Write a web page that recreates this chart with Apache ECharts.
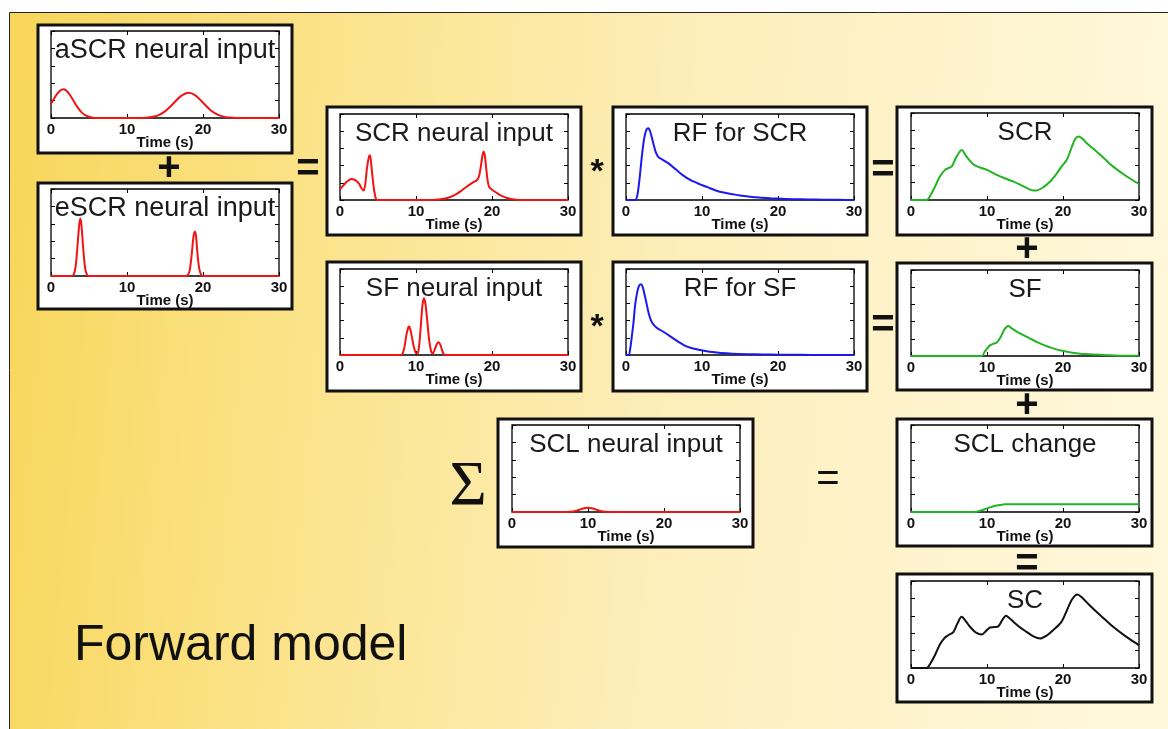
<!DOCTYPE html>
<html lang="en">
<head>
<meta charset="UTF-8">
<title>Forward model</title>
<script src="https://cdn.jsdelivr.net/npm/echarts@6/dist/echarts.min.js"></script>
<style>
body {margin: 0; background: #fff;}
#main {width: 1168px; height: 729px;}
</style>
</head>
<body>
<div id="main"></div>
<script>
// [time (s), value], value in y-tick units (0..5)
var aSCR = [[0,0.82],[0.5,1.18],[1,1.49],[1.6,1.65],[2,1.58],[2.5,1.32],[3,0.96],[3.5,0.61],[4,0.34],[4.5,0.16],[5,0.07],[5.5,0.02],[6,0],[12,0],[13,0.04],[14,0.14],[15,0.38],[16,0.79],[17,1.23],[18.1,1.45],[19,1.3],[20,0.88],[21,0.45],[22,0.18],[23,0.05],[24,0.01],[25,0],[30,0]];
var eSCR = [[0,0],[2.75,0],[3,0.1],[3.25,0.57],[3.5,1.81],[3.7,2.9],[3.85,3.3],[4,2.96],[4.25,1.51],[4.5,0.42],[4.75,0.06],[5,0],[17.75,0],[18,0.05],[18.25,0.32],[18.5,1.17],[18.75,2.28],[18.9,2.55],[19.05,2.4],[19.25,1.4],[19.5,0.44],[19.75,0.08],[20,0],[30,0]];
var scrNeural = [[0,0.62],[0.5,0.88],[1,1.1],[1.5,1.22],[2,1.15],[2.5,0.95],[2.8,0.7],[3.1,0.55],[3.3,0.85],[3.55,1.85],[3.8,2.5],[3.95,2.6],[4.15,1.9],[4.4,0.85],[4.65,0.2],[4.9,0],[12.3,0],[13,0.03],[14,0.1],[15,0.27],[16,0.55],[17,0.88],[17.6,1.05],[18,1.15],[18.3,1.4],[18.55,2.0],[18.75,2.6],[18.9,2.8],[19.05,2.6],[19.25,1.8],[19.45,1.05],[19.65,0.74],[20,0.6],[20.5,0.45],[21,0.3],[21.5,0.2],[22,0.12],[22.5,0.06],[23,0.03],[23.7,0],[30,0]];
var rfSCR = [[0,0],[1.2,0],[1.5,0.3],[1.8,1.3],[2.1,2.6],[2.4,3.6],[2.7,4.1],[2.95,4.17],[3.2,3.95],[3.6,3.29],[3.9,2.8],[4.3,2.48],[4.8,2.35],[5.6,2.13],[6.5,1.8],[7.6,1.4],[8.5,1.15],[9.75,0.91],[11,0.7],[11.9,0.54],[13,0.42],[14.1,0.33],[15,0.26],[16.3,0.19],[17.5,0.14],[19,0.1],[20,0.08],[22,0.05],[24,0.03],[26,0.02],[28,0.01],[30,0]];
var scr = [[0,0],[2.06,0],[2.6,0.3],[3.16,0.77],[3.8,1.35],[4.47,1.73],[5,1.85],[5.4,1.95],[6,2.5],[6.67,2.88],[7.3,2.5],[8.2,2.06],[9,1.88],[10,1.73],[11.3,1.44],[12.5,1.22],[13.5,1.06],[14.8,0.78],[15.9,0.56],[16.5,0.55],[17.4,0.73],[18.3,1.06],[19.2,1.54],[19.8,1.92],[20.5,2.31],[21.1,2.98],[21.6,3.5],[22,3.65],[22.5,3.55],[23.1,3.27],[24.4,2.79],[25.5,2.35],[26.6,1.92],[28.4,1.35],[30,0.92]];
var sfNeural = [[0,0],[8,0],[8.25,0.1],[8.5,0.5],[8.75,1.2],[9,1.62],[9.1,1.65],[9.25,1.5],[9.5,0.95],[9.75,0.4],[10,0.1],[10.2,0.08],[10.4,0.5],[10.6,1.5],[10.85,2.9],[11.05,3.3],[11.25,2.95],[11.5,1.9],[11.75,0.8],[12,0.2],[12.2,0.08],[12.45,0.3],[12.7,0.6],[12.95,0.74],[13.2,0.6],[13.45,0.25],[13.7,0.02],[14,0],[30,0]];
var rfSF = [[0,0],[0.35,0],[0.6,0.5],[0.8,1.2],[1.0,1.94],[1.2,2.9],[1.45,3.6],[1.7,4.0],[1.97,4.11],[2.2,3.95],[2.5,3.4],[2.75,2.9],[3.0,2.4],[3.3,2.0],[3.6,1.78],[4.0,1.6],[4.3,1.51],[4.8,1.38],[5.6,1.16],[6.5,0.88],[7.6,0.58],[8.5,0.42],[9.75,0.29],[11,0.19],[12.5,0.12],[14,0.08],[16,0.05],[18,0.03],[20,0.02],[23,0.01],[26,0],[30,0]];
var sf = [[0,0],[9.3,0],[9.7,0.25],[10.1,0.48],[10.4,0.62],[10.9,0.72],[11.3,0.78],[11.8,1.1],[12.3,1.55],[12.8,1.74],[13.2,1.62],[13.8,1.45],[14.8,1.21],[15.5,1.05],[16.5,0.82],[17.5,0.63],[18.5,0.47],[20,0.29],[21,0.21],[22,0.15],[23,0.11],[24.4,0.08],[26,0.05],[28,0.02],[30,0.01]];
var sclNeural = [[0,0],[7,0],[7.5,0.01],[8,0.03],[8.5,0.08],[9,0.15],[9.5,0.22],[10,0.25],[10.5,0.22],[11,0.15],[11.5,0.08],[12,0.03],[12.5,0.01],[13,0],[30,0]];
var sclChange = [[0,0],[8.2,0],[8.6,0.02],[9,0.06],[9.5,0.13],[10,0.21],[10.5,0.28],[11,0.34],[11.5,0.39],[12,0.42],[12.5,0.44],[13,0.44],[30,0.44]];
var sc = [[0,0],[2.06,0],[2.6,0.3],[3.16,0.75],[3.8,1.35],[4.4,1.72],[4.9,1.88],[5.6,2.08],[6.1,2.55],[6.67,2.94],[7.2,2.7],[7.76,2.37],[8.5,2.05],[9.3,1.92],[9.8,2.1],[10.4,2.33],[11.0,2.35],[11.5,2.4],[12.0,2.75],[12.5,3.0],[13.0,2.85],[13.5,2.65],[14.3,2.35],[15.2,2.08],[16.1,1.82],[17,1.69],[17.8,1.85],[18.7,2.17],[19.8,2.65],[20.5,3.3],[21.2,3.95],[21.9,4.23],[22.5,4.05],[23.4,3.65],[24.4,3.23],[25.5,2.8],[26.6,2.37],[28.3,1.8],[30,1.31]];

var RED = '#f01414', BLUE = '#1a1aee', GREEN = '#22b422', BLACK = '#111';
var FONT = '"Liberation Sans", Arial, sans-serif';

// box = outer frame [x, y, w, h], plot = axes area [left, top, w, h]
var panels = [
  {title: 'aSCR neural input', size: 27, box: [38, 25, 254, 128], plot: [51, 31, 228, 87], data: aSCR, color: RED},
  {title: 'eSCR neural input', size: 27, box: [38, 183, 254, 126], plot: [51, 189, 228, 87], data: eSCR, color: RED},
  {title: 'SCR neural input', size: 26, box: [327, 107, 254, 128], plot: [340, 114, 228, 86], data: scrNeural, color: RED},
  {title: 'RF for SCR', size: 26, box: [613, 107, 254, 128], plot: [626, 114, 228, 86], data: rfSCR, color: BLUE},
  {title: 'SCR', size: 26, box: [897, 107, 255, 128], plot: [911, 113, 228, 87], data: scr, color: GREEN},
  {title: 'SF neural input', size: 26, box: [327, 262, 254, 129], plot: [340, 269, 228, 86], data: sfNeural, color: RED},
  {title: 'RF for SF', size: 26, box: [613, 262, 254, 129], plot: [626, 269, 228, 86], data: rfSF, color: BLUE},
  {title: 'SF', size: 26, box: [897, 263, 255, 127], plot: [911, 270, 228, 86], data: sf, color: GREEN},
  {title: 'SCL neural input', size: 26, box: [498, 419, 255, 128], plot: [512, 425, 228, 87], data: sclNeural, color: RED},
  {title: 'SCL change', size: 26, box: [897, 419, 255, 127], plot: [911, 425, 228, 87], data: sclChange, color: GREEN},
  {title: 'SC', size: 26, box: [897, 574, 255, 128], plot: [911, 581, 228, 87], data: sc, color: BLACK}
];

// operators between panels: [text, x, y, fontSize, weight, family]
var ops = [
  ['+', 169, 169, 40, 'bold', FONT],
  ['=', 308, 170, 40, 'bold', FONT],
  ['*', 597, 173, 34, 'bold', FONT],
  ['=', 883, 171, 40, 'bold', FONT],
  ['*', 597, 328, 34, 'bold', FONT],
  ['=', 883, 326, 40, 'bold', FONT],
  ['+', 1027, 250, 40, 'bold', FONT],
  ['+', 1027, 406, 40, 'bold', FONT],
  ['=', 1027, 565, 40, 'bold', FONT],
  ['=', 828, 480, 40, 'normal', FONT],
  ['\u03A3', 468, 488, 64, 'normal', '"Liberation Serif", "DejaVu Serif", serif']
];

function innerTick() {
  return {show: true, inside: true, length: 4, lineStyle: {color: '#000', width: 1}};
}
function noLine() {
  return {show: false, onZero: false};
}

var grids = [], xAxes = [], yAxes = [], series = [];
var graphics = [
  {type: 'rect', z: -20, shape: {x: 10, y: 13, width: 1158, height: 716},
   style: {fill: {type: 'linear', x: 0, y: 0, x2: 1, y2: 0.15, colorStops: [
     {offset: 0, color: '#f8d65a'}, {offset: 0.3, color: '#fbe48e'},
     {offset: 0.6, color: '#fdeebb'}, {offset: 1, color: '#fef7da'}]}}},
  {type: 'line', z: -19, shape: {x1: 9.5, y1: 12.5, x2: 1168, y2: 12.5}, style: {stroke: '#222', lineWidth: 1}},
  {type: 'line', z: -19, shape: {x1: 9.5, y1: 12.5, x2: 9.5, y2: 729}, style: {stroke: '#222', lineWidth: 1}},
  {type: 'text', z: 10, style: {text: 'Forward model', x: 74, y: 646, align: 'left', verticalAlign: 'middle',
    fontSize: 50, fontFamily: FONT, fill: '#111'}}
];

panels.forEach(function (p, i) {
  graphics.push({type: 'rect', z: -10, shape: {x: p.box[0], y: p.box[1], width: p.box[2], height: p.box[3]},
    style: {fill: '#fff', stroke: '#111', lineWidth: 3}});
  graphics.push({type: 'text', z: 10, style: {text: p.title, x: p.plot[0] + p.plot[2] / 2, y: p.plot[1] + 19.5,
    align: 'center', verticalAlign: 'middle', fontSize: p.size, fontFamily: FONT, fill: '#1a1a1a'}});

  grids.push({left: p.plot[0], top: p.plot[1], width: p.plot[2], height: p.plot[3],
    show: true, backgroundColor: '#fff', borderColor: '#000', borderWidth: 1.3});

  xAxes.push({gridIndex: i, type: 'value', position: 'bottom', min: 0, max: 30, interval: 10,
    axisLine: noLine(), axisTick: innerTick(), splitLine: {show: false},
    axisLabel: {show: true, margin: 4, fontSize: 15, fontWeight: 'bold', fontFamily: FONT, color: '#111'},
    name: 'Time (s)', nameLocation: 'middle', nameGap: 17, nameMoveOverlap: false,
    nameTextStyle: {fontSize: 15, fontWeight: 'bold', fontFamily: FONT, color: '#111'}});
  xAxes.push({gridIndex: i, type: 'value', position: 'top', min: 0, max: 30, interval: 10,
    axisLine: noLine(), axisTick: innerTick(), splitLine: {show: false}, axisLabel: {show: false}});
  yAxes.push({gridIndex: i, type: 'value', position: 'left', min: 0, max: 5, interval: 1,
    axisLine: noLine(), axisTick: innerTick(), splitLine: {show: false}, axisLabel: {show: false}});
  yAxes.push({gridIndex: i, type: 'value', position: 'right', min: 0, max: 5, interval: 1,
    axisLine: noLine(), axisTick: innerTick(), splitLine: {show: false}, axisLabel: {show: false}});

  series.push({type: 'line', xAxisIndex: 2 * i, yAxisIndex: 2 * i, data: p.data,
    showSymbol: false, smooth: 0.3, clip: true,
    lineStyle: {color: p.color, width: 2}});
});

ops.forEach(function (o) {
  graphics.push({type: 'text', z: 10, style: {text: o[0], x: o[1], y: o[2], align: 'center', verticalAlign: 'middle',
    fontSize: o[3], fontWeight: o[4], fontFamily: o[5], fill: '#111'}});
});

var chart = echarts.init(document.getElementById('main'));
chart.setOption({
  animation: false,
  grid: grids,
  xAxis: xAxes,
  yAxis: yAxes,
  series: series,
  graphic: graphics
});
</script>
</body>
</html>
